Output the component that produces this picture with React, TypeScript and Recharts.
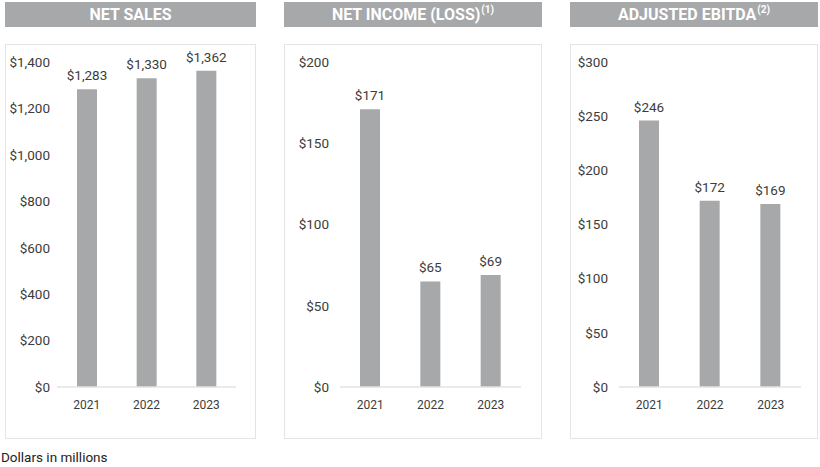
import React from 'react';
import { BarChart, Bar, XAxis, YAxis, LabelList } from 'recharts';

const years = ['2021', '2022', '2023'];
const netSales = [1283, 1330, 1362];
const netIncome = [171, 65, 69];
const adjEbitda = [246, 172, 169];
const salesTicks = [0, 200, 400, 600, 800, 1000, 1200, 1400];
const incomeTicks = [0, 50, 100, 150, 200];
const ebitdaTicks = [0, 50, 100, 150, 200, 250, 300];

const BAR = '#a7a8aa';
const TEXT = '#3c3c3c';
const FONT = 'Roboto, "Noto Sans", sans-serif';

const fmt = (v: number) => '$' + v.toLocaleString('en-US');

type PanelProps = {
  left: number;
  width: number;
  title: string;
  sup?: string;
  values: number[];
  ticks: number[];
  yWidth: number;
  tickMargin: number;
  marginRight: number;
};

function Panel({ left, width, title, sup, values, ticks, yWidth, tickMargin, marginRight }: PanelProps) {
  const data = years.map((y, i) => ({ year: y, value: values[i] }));
  const max = ticks[ticks.length - 1];
  return (
    <>
      <div
        style={{
          position: 'absolute',
          left,
          top: 2,
          width,
          height: 25,
          background: BAR,
          color: '#fff',
          fontFamily: FONT,
          fontWeight: 700,
          fontSize: 16,
          display: 'flex',
          alignItems: 'center',
          justifyContent: 'center',
          whiteSpace: 'nowrap',
        }}
      >
        {title}
        {sup ? (
          <span style={{ fontSize: 10, position: 'relative', top: -5, marginLeft: 1 }}>{sup}</span>
        ) : null}
      </div>
      <div
        style={{
          position: 'absolute',
          left,
          top: 44,
          width: width,
          height: 395,
          boxSizing: 'border-box',
          border: '1px solid #e4e4e4',
        }}
      >
        <BarChart
          width={width - 2}
          height={393}
          data={data}
          margin={{ top: 17, right: marginRight, left: 0, bottom: 0 }}
          style={{ fontFamily: FONT }}
        >
          <XAxis
            dataKey="year"
            axisLine={{ stroke: '#e3e3e3', strokeWidth: 1.5 }}
            tickLine={false}
            tickSize={0}
            tickMargin={13}
            height={51}
            tick={{ fill: TEXT, fontSize: 12, fontFamily: FONT }}
            interval={0}
          />
          <YAxis
            domain={[0, max]}
            ticks={ticks}
            interval={0}
            axisLine={false}
            tickLine={false}
            tickSize={0}
            tickMargin={tickMargin}
            width={yWidth}
            tickFormatter={fmt}
            tick={{ fill: TEXT, fontSize: 13.5, fontFamily: FONT }}
          />
          <Bar dataKey="value" fill={BAR} barSize={20} isAnimationActive={false}>
            <LabelList
              dataKey="value"
              position="top"
              offset={9}
              formatter={(v: any) => fmt(Number(v))}
              style={{ fill: TEXT, fontSize: 13.5, fontFamily: FONT }}
            />
          </Bar>
        </BarChart>
      </div>
    </>
  );
}

export default function App() {
  return (
    <div style={{ position: 'absolute', left: 0, top: 0, width: 820, height: 467, background: '#fff' }}>
      <Panel left={5} width={251} title="NET SALES" values={netSales} ticks={salesTicks} yWidth={51} tickMargin={7} marginRight={19} />
      <Panel left={284} width={258} title="NET INCOME (LOSS)" sup="(1)" values={netIncome} ticks={incomeTicks} yWidth={55} tickMargin={11} marginRight={20} />
      <Panel left={570} width={248} title="ADJUSTED EBITDA" sup="(2)" values={adjEbitda} ticks={ebitdaTicks} yWidth={48} tickMargin={11} marginRight={16} />
      <div
        style={{
          position: 'absolute',
          left: 1,
          top: 449,
          fontFamily: FONT,
          fontSize: 13.5,
          lineHeight: '16px',
          color: '#222',
          whiteSpace: 'nowrap',
        }}
      >
        Dollars in millions
      </div>
    </div>
  );
}
